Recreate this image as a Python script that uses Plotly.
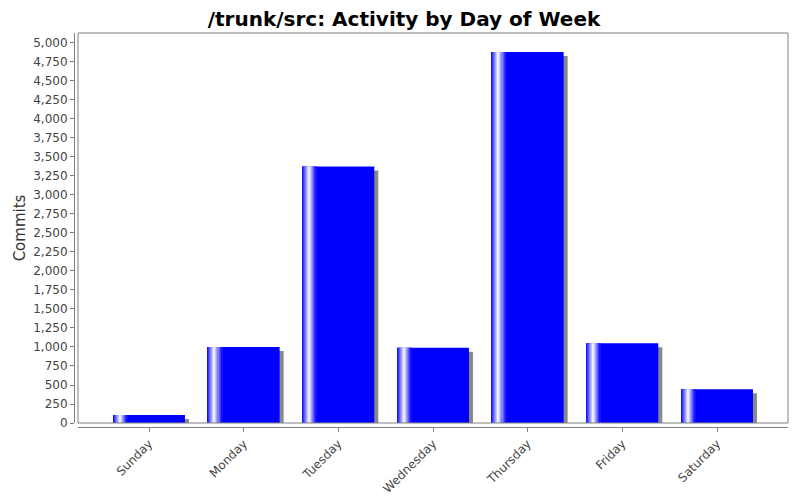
import plotly.graph_objects as go

days = ["Sunday", "Monday", "Tuesday", "Wednesday", "Thursday", "Friday", "Saturday"]
commits = [105, 1000, 3375, 990, 4880, 1050, 445]

# page has an 8px body margin, so the figure is sized to fit the 800x500 window
PAGE_OFF = 8
W, H = 800 - PAGE_OFF, 500 - PAGE_OFF
ml, mr, mt, mb = 74 - PAGE_OFF, 12, 33 - PAGE_OFF, 73
gap = 4
pw = W - ml - mr
ph = H - mt - mb
xr = [-0.75, 6.75]
yr = [0, 5131]
plot_w = pw - gap
plot_h = ph - gap
px_x = (xr[1] - xr[0]) / plot_w
px_y = (yr[1] - yr[0]) / plot_h

bw = 0.76
off = -bw / 2
blue = (0, 0, 255)

fig = go.Figure()

# shadow
fig.add_trace(go.Bar(
    x=days, y=[max(v - 4 * px_y, 0) for v in commits],
    width=bw, offset=off + 4 * px_x,
    marker=dict(color="rgb(136,136,136)", line=dict(width=0)),
    hoverinfo="skip", showlegend=False))

# main bar
fig.add_trace(go.Bar(
    x=days, y=commits, width=bw, offset=off,
    marker=dict(color="rgb(0,0,255)", line=dict(width=0)),
    hoverinfo="skip", showlegend=False))

# gradient strips on left side
N = 14
sw = bw * 0.2 / N
for i in range(N):
    t = (i + 0.5) / N
    f = t / 0.5 if t < 0.5 else (1 - t) / 0.5
    c = tuple(int(round(b + (255 - b) * f)) for b in blue)
    fig.add_trace(go.Bar(
        x=days, y=commits, width=sw * 1.05, offset=off + i * sw,
        marker=dict(color="rgb(%d,%d,%d)" % c, line=dict(width=0)),
        hoverinfo="skip", showlegend=False))

fig.update_layout(
    width=W, height=H,
    margin=dict(l=ml, r=mr, t=mt, b=mb, pad=0, autoexpand=False),
    barmode="overlay",
    paper_bgcolor="white", plot_bgcolor="white",
    font=dict(family="DejaVu Sans", size=12, color="#444444"),
    title=dict(text="/trunk/src: Activity by Day of Week", x=0.5, xanchor="center",
               y=1 - (19 - PAGE_OFF) / H, yanchor="middle",
               font=dict(family="DejaVu Sans", size=20, color="black", weight="bold")),
    xaxis=dict(domain=[gap / pw, 1], anchor="free", position=0, range=xr,
               automargin=False,
               showline=True, linecolor="#808080", linewidth=1,
               ticks="outside", ticklen=4, tickcolor="#808080",
               tickangle=-45, showgrid=False, zeroline=False,
               tickfont=dict(size=12, color="#444444")),
    yaxis=dict(domain=[gap / ph, 1], anchor="free", position=0, range=yr,
               automargin=False,
               showline=True, linecolor="#808080", linewidth=1,
               ticks="outside", ticklen=4, tickcolor="#808080",
               tick0=0, dtick=250, tickformat=",d", showgrid=False, zeroline=False,
               tickfont=dict(size=12, color="#444444"),
               title=dict(text="Commits", font=dict(size=15, color="#333333"), standoff=2)),
    shapes=[dict(type="rect", xref="x domain", yref="y domain", x0=0, x1=1, y0=0, y1=1,
                 line=dict(color="#808080", width=1), layer="above")],
)

fig.write_html("out.html")
